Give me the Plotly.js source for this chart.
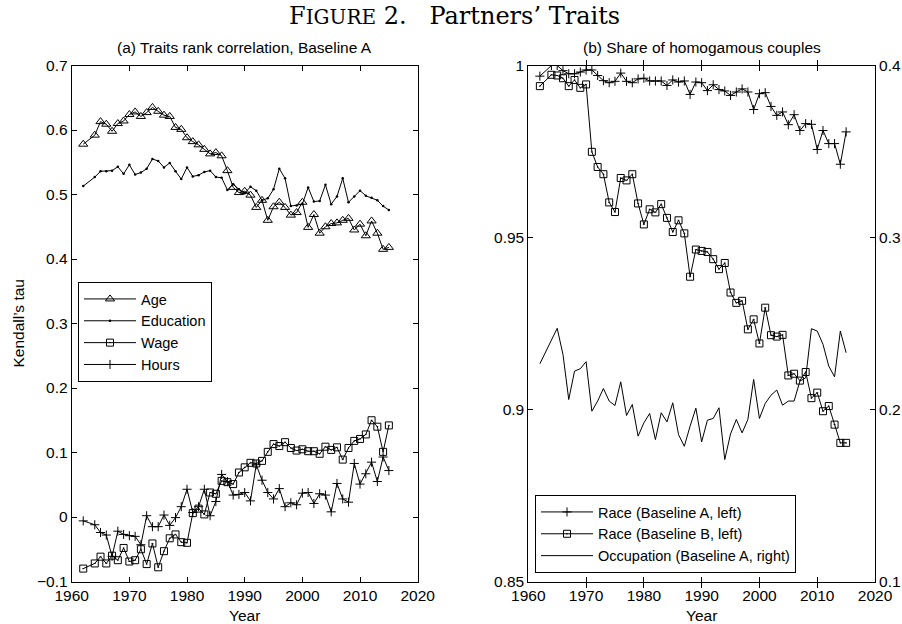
<!DOCTYPE html>
<html>
<head>
<meta charset="utf-8">
<script src="https://cdn.plot.ly/plotly-3.0.1.min.js"></script>
<style>
html,body{margin:0;padding:0;background:#fff;}
#chart{width:902px;height:624px;}
</style>
</head>
<body>
<div id="chart"></div>
<script>
// Years (1963 is missing in every series)
const years = [1962,1964,1965,1966,1967,1968,1969,1970,1971,1972,1973,1974,1975,1976,1977,1978,1979,1980,1981,1982,1983,1984,1985,1986,1987,1988,1989,1990,1991,1992,1993,1994,1995,1996,1997,1998,1999,2000,2001,2002,2003,2004,2005,2006,2007,2008,2009,2010,2011,2012,2013,2014,2015];

// Panel (a): Kendall's tau
const age = [0.578,0.592,0.613,0.609,0.598,0.610,0.614,0.624,0.628,0.621,0.627,0.635,0.629,0.623,0.621,0.604,0.601,0.588,0.582,0.577,0.570,0.563,0.565,0.560,0.537,0.511,0.503,0.505,0.499,0.480,0.491,0.460,0.481,0.488,0.480,0.468,0.472,0.488,0.449,0.469,0.440,0.450,0.455,0.456,0.460,0.463,0.445,0.454,0.436,0.459,0.440,0.415,0.418];
const education = [0.513,0.527,0.536,0.536,0.537,0.543,0.532,0.546,0.531,0.534,0.540,0.555,0.552,0.542,0.549,0.536,0.524,0.542,0.528,0.530,0.535,0.537,0.527,0.526,0.507,0.516,0.508,0.502,0.512,0.506,0.491,0.494,0.508,0.540,0.525,0.482,0.483,0.485,0.511,0.489,0.490,0.515,0.485,0.497,0.525,0.488,0.497,0.506,0.498,0.495,0.491,0.482,0.476];
const wage = [-0.080,-0.072,-0.0615,-0.072,-0.060,-0.067,-0.048,-0.069,-0.067,-0.050,-0.073,-0.041,-0.078,-0.053,-0.033,-0.027,-0.039,-0.040,0.006,0.013,0.004,0.038,0.036,0.056,0.054,0.051,0.069,0.077,0.084,0.083,0.087,0.101,0.113,0.110,0.116,0.107,0.103,0.105,0.102,0.102,0.098,0.109,0.104,0.108,0.089,0.107,0.118,0.121,0.128,0.150,0.140,0.101,0.142];
const hours = [-0.006,-0.012,-0.024,-0.028,-0.061,-0.022,-0.027,-0.029,-0.030,-0.043,0.002,-0.015,-0.015,0.003,-0.013,-0.001,0.016,0.043,0.007,0.016,0.043,0.002,0.024,0.066,0.055,0.034,0.035,0.038,0.025,0.081,0.057,0.038,0.028,0.044,0.016,0.022,0.019,0.037,0.038,0.021,0.036,0.034,0.008,0.052,0.028,0.023,0.083,0.051,0.067,0.085,0.055,0.093,0.072];

// Panel (b): share of homogamous couples
const raceA = [0.9969,1.0000,1.0000,0.9985,0.9976,0.9976,0.9981,0.9987,0.9987,0.9971,0.9956,0.9950,0.9954,0.9978,0.9954,0.9950,0.9961,0.9963,0.9955,0.9955,0.9955,0.9942,0.9958,0.9952,0.9955,0.9916,0.9952,0.9950,0.9927,0.9944,0.9930,0.9926,0.9913,0.9923,0.9932,0.9923,0.9872,0.9918,0.9921,0.9881,0.9855,0.9865,0.9828,0.9857,0.9811,0.9831,0.9829,0.9756,0.9811,0.9773,0.9773,0.9713,0.9807];
const raceB = [0.9940,0.9973,0.9971,0.9963,0.9940,0.9958,0.9935,0.9945,0.9749,0.9705,0.9684,0.9602,0.9574,0.9673,0.9666,0.9684,0.9599,0.9538,0.9582,0.9573,0.9597,0.9557,0.9516,0.9550,0.9512,0.9386,0.9465,0.9461,0.9458,0.9437,0.9408,0.9426,0.9340,0.9310,0.9316,0.9233,0.9262,0.9192,0.9296,0.9216,0.9212,0.9217,0.9099,0.9104,0.9084,0.9109,0.9033,0.9049,0.8995,0.9010,0.8956,0.8903,0.8903];
const occupation = [0.2266,0.2404,0.2472,0.2320,0.2058,0.2223,0.2237,0.2278,0.1990,0.2049,0.2122,0.2049,0.2023,0.2161,0.1965,0.2029,0.1845,0.1922,0.1977,0.1825,0.1981,0.1928,0.2039,0.1854,0.1786,0.1903,0.2008,0.1812,0.1938,0.1948,0.2010,0.1709,0.1858,0.1942,0.1864,0.1942,0.2175,0.1948,0.2035,0.2083,0.2113,0.2025,0.2049,0.2049,0.2165,0.2184,0.2470,0.2456,0.2379,0.2252,0.2190,0.2456,0.2330];

// Text
const mainTitle = 'F<span style="font-size:20px">IGURE</span>\u00A02.\u00A0\u00A0\u00A0Partners\u2019 Traits';
const titleA = '(a) Traits rank correlation, Baseline A';
const titleB = '(b) Share of homogamous couples';
const yTitleA = 'Kendall\u2019s tau';
const xTitle = 'Year';
const namesA = ['Age','Education','Wage','Hours'];
const namesB = ['Race (Baseline A, left)','Race (Baseline B, left)','Occupation (Baseline A, right)'];
const leftTickVals = [-0.1,0,0.1,0.2,0.3,0.4,0.5,0.6,0.7];
const leftTickText = ['\u22120.1','0','0.1','0.2','0.3','0.4','0.5','0.6','0.7'];
const rbTickVals = [0.85,0.9,0.95,1];
const rbTickText = ['0.85','0.9','0.95','1'];
const rrTickVals = [0.1,0.2,0.3,0.4];
const rrTickText = ['0.1','0.2','0.3','0.4'];

const SANS = 'Liberation Sans, Arial, Helvetica, sans-serif';
const FS = 15.5;
const LFS = 14.5;
const BLACK = '#000';
const lineStyle = {color: BLACK, width: 1};

const traces = [
  {x: years, y: age, name: namesA[0], type:'scatter', mode:'lines+markers', xaxis:'x', yaxis:'y', legend:'legend',
   line: lineStyle, marker:{symbol:'triangle-up-open', size:8, color: BLACK, line:{color:BLACK,width:1}}},
  {x: years, y: education, name: namesA[1], type:'scatter', mode:'lines+markers', xaxis:'x', yaxis:'y', legend:'legend',
   line: lineStyle, marker:{symbol:'circle', size:2.5, color: BLACK}},
  {x: years, y: wage, name: namesA[2], type:'scatter', mode:'lines+markers', xaxis:'x', yaxis:'y', legend:'legend',
   line: lineStyle, marker:{symbol:'square-open-dot', size:7, color: BLACK, line:{color:BLACK,width:1}}},
  {x: years, y: hours, name: namesA[3], type:'scatter', mode:'lines+markers', xaxis:'x', yaxis:'y', legend:'legend',
   line: lineStyle, marker:{symbol:'cross-thin-open', size:6.5, color: BLACK, line:{color:BLACK,width:1}}},

  {x: years, y: raceA, name: namesB[0], type:'scatter', mode:'lines+markers', xaxis:'x2', yaxis:'y2', legend:'legend2',
   line: lineStyle, marker:{symbol:'cross-thin-open', size:6.5, color: BLACK, line:{color:BLACK,width:1}}},
  {x: years, y: raceB, name: namesB[1], type:'scatter', mode:'lines+markers', xaxis:'x2', yaxis:'y2', legend:'legend2',
   line: lineStyle, marker:{symbol:'square-open-dot', size:7, color: BLACK, line:{color:BLACK,width:1}}},
  {x: years, y: occupation, name: namesB[2], type:'scatter', mode:'lines', xaxis:'x2', yaxis:'y3', legend:'legend2',
   line: lineStyle}
];

const Y0 = (624-581.5)/624, Y1 = (624-65.5)/624;

const axisCommon = {
  showgrid:false, zeroline:false, showline:true, linecolor:BLACK, linewidth:1,
  ticks:'inside', ticklen:5, tickwidth:1, tickcolor:BLACK,
  tickfont:{family:SANS, size:FS, color:BLACK}
};

const layout = {
  width:902, height:624,
  margin:{l:0,r:0,t:0,b:0},
  paper_bgcolor:'#fff', plot_bgcolor:'#fff',
  showlegend:true,
  font:{family:SANS, size:FS, color:BLACK},
  xaxis: Object.assign({}, axisCommon, {domain:[71.7/902, 417.7/902], range:[1960,2020], dtick:10, tick0:1960, anchor:'y', mirror:'allticks'}),
  yaxis: Object.assign({}, axisCommon, {domain:[Y0,Y1], range:[-0.1,0.7], tickvals:leftTickVals, ticktext:leftTickText, anchor:'x', mirror:'allticks'}),
  xaxis2: Object.assign({}, axisCommon, {domain:[528.3/902, 875/902], range:[1960,2020], dtick:10, tick0:1960, anchor:'y2', mirror:'allticks'}),
  yaxis2: Object.assign({}, axisCommon, {domain:[Y0,Y1], range:[0.85,1], tickvals:rbTickVals, ticktext:rbTickText, anchor:'x2', side:'left', mirror:false}),
  yaxis3: Object.assign({}, axisCommon, {range:[0.1,0.4], tickvals:rrTickVals, ticktext:rrTickText, anchor:'x2', overlaying:'y2', side:'right'}),
  legend: {x:78/902, y:1-282/624, xanchor:'left', yanchor:'top', bgcolor:'#fff', bordercolor:BLACK, borderwidth:1,
           font:{family:SANS, size:LFS, color:BLACK}, itemwidth:52, tracegroupgap:0},
  legend2: {x:535/902, y:1-573/624, xanchor:'left', yanchor:'bottom', bgcolor:'#fff', bordercolor:BLACK, borderwidth:1,
           font:{family:SANS, size:LFS, color:BLACK}, itemwidth:52, tracegroupgap:0},
  annotations: [
    {text: mainTitle, xref:'paper', yref:'paper', x:455/902, y:1-16/624, xanchor:'center', yanchor:'middle', showarrow:false,
     font:{family:'DejaVu Serif, Liberation Serif, serif', size:24, color:BLACK}},
    {text: titleA, xref:'paper', yref:'paper', x:244.7/902, y:1-48/624, xanchor:'center', yanchor:'middle', showarrow:false,
     font:{family:SANS, size:FS, color:BLACK}},
    {text: titleB, xref:'paper', yref:'paper', x:701.6/902, y:1-48/624, xanchor:'center', yanchor:'middle', showarrow:false,
     font:{family:SANS, size:FS, color:BLACK}},
    {text: xTitle, xref:'paper', yref:'paper', x:244.7/902, y:1-615/624, xanchor:'center', yanchor:'middle', showarrow:false,
     font:{family:SANS, size:FS, color:BLACK}},
    {text: xTitle, xref:'paper', yref:'paper', x:701.6/902, y:1-615/624, xanchor:'center', yanchor:'middle', showarrow:false,
     font:{family:SANS, size:FS, color:BLACK}},
    {text: yTitleA, xref:'paper', yref:'paper', x:18/902, y:1-323.5/624, xanchor:'center', yanchor:'middle', showarrow:false, textangle:-90,
     font:{family:SANS, size:FS, color:BLACK}}
  ]
};

Plotly.newPlot('chart', traces, layout, {staticPlot:true, displayModeBar:false});
</script>
</body>
</html>
